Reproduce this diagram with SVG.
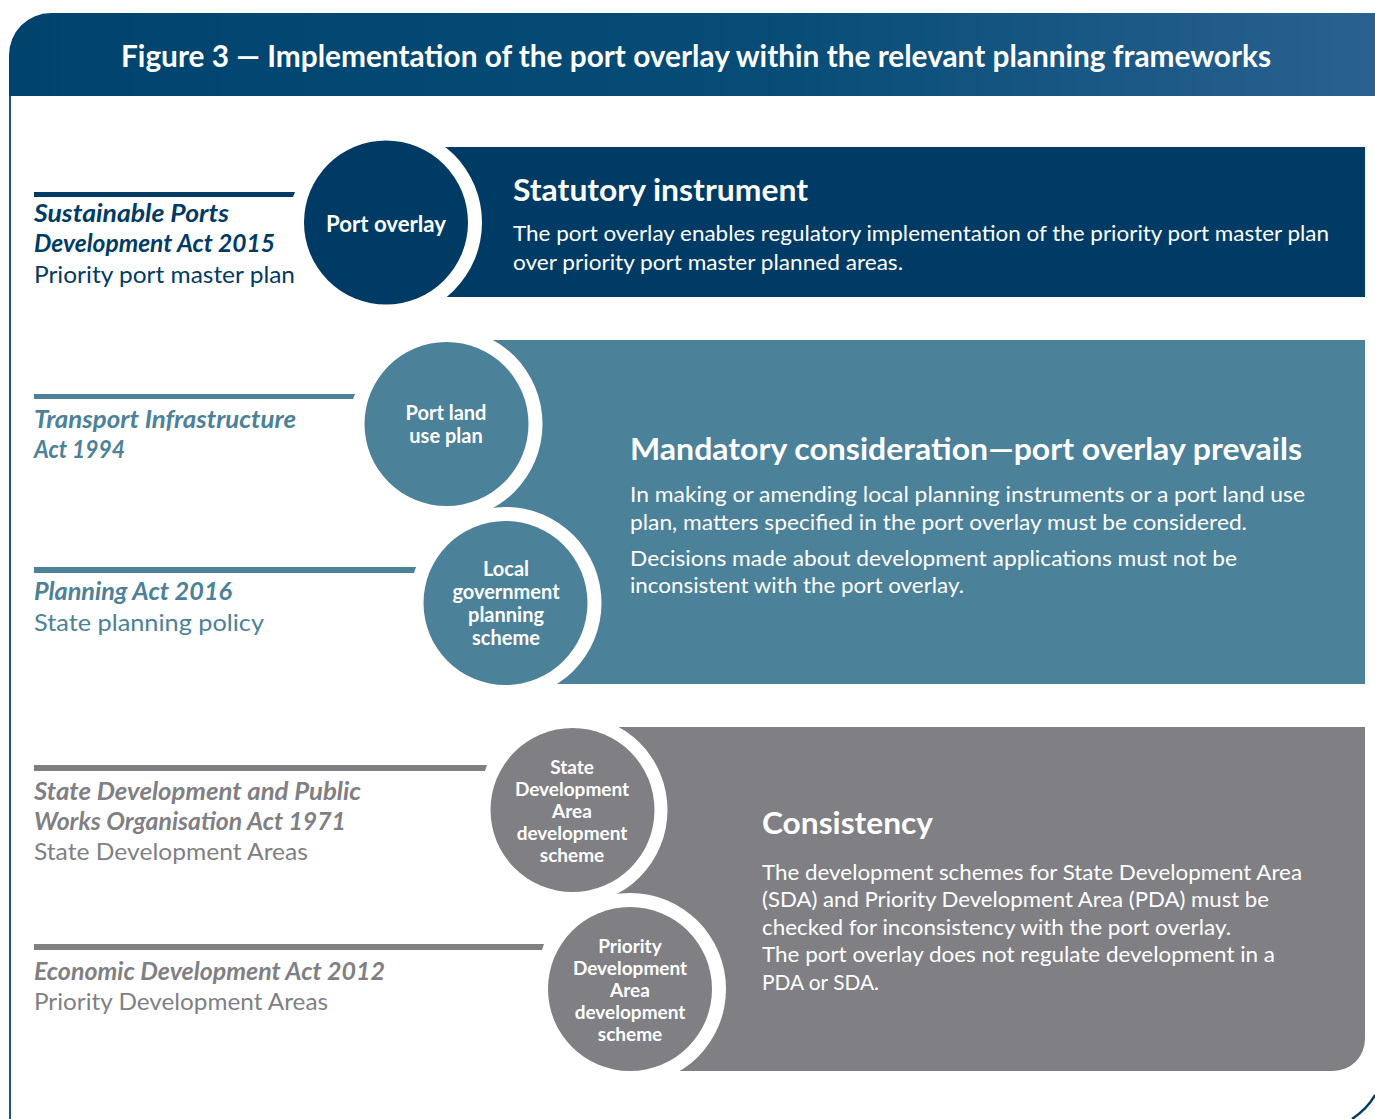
<svg xmlns="http://www.w3.org/2000/svg" width="1375" height="1119" viewBox="0 0 1375 1119">
<defs>
<linearGradient id="hdr" x1="0" y1="0" x2="1" y2="0">
<stop offset="0" stop-color="#00446e"/>
<stop offset="0.55" stop-color="#064c77"/>
<stop offset="1" stop-color="#2a6190"/>
</linearGradient>
<style>
text{font-family:Lato,"Noto Sans","Liberation Sans",sans-serif}
.title{font-size:31px;font-weight:700;fill:#fff}
.head{font-size:30px;font-weight:700;fill:#fff}
.body{font-size:21px;fill:#fff}
.ctext{font-size:20px;font-weight:700;fill:#fff;text-anchor:middle}
.csm{font-size:19px}
.act{font-size:24px;font-weight:700;font-style:italic}
.sub{font-size:24px}
.navy{fill:#003b65}
.teal{fill:#4b8199}
.grey{fill:#808084}
.ring{fill:#fff}
</style>
</defs>
<rect width="1375" height="1119" fill="#fff"/>
<g id="frame">
<path d="M9,96 L9,55 A42,42 0 0 1 51,13 L1375,13 L1375,96 Z" fill="url(#hdr)"/>
<line x1="10" y1="96" x2="10" y2="1119" stroke="#1f5482" stroke-width="2"/>
<path d="M1352,1119 Q1368,1108 1375,1095" fill="none" stroke="#003b65" stroke-width="2.5"/>
<text class="title" x="121" y="67" textLength="1150" lengthAdjust="spacingAndGlyphs">Figure 3 — Implementation of the port overlay within the relevant planning frameworks</text>
</g>
<g id="panel-statutory">
<rect class="navy" x="420" y="147" width="945" height="150"/>
<text class="head" x="513" y="201" textLength="295" lengthAdjust="spacingAndGlyphs">Statutory instrument</text>
<text class="body" x="513" y="241" textLength="816" lengthAdjust="spacingAndGlyphs">The port overlay enables regulatory implementation of the priority port master plan</text>
<text class="body" x="513" y="270" textLength="390" lengthAdjust="spacingAndGlyphs">over priority port master planned areas.</text>
</g>
<g id="panel-mandatory">
<rect class="teal" x="470" y="340" width="895" height="344"/>
<text class="head" x="630" y="460" textLength="672" lengthAdjust="spacingAndGlyphs">Mandatory consideration—port overlay prevails</text>
<text class="body" x="630" y="502" textLength="675" lengthAdjust="spacingAndGlyphs">In making or amending local planning instruments or a port land use</text>
<text class="body" x="630" y="530" textLength="617" lengthAdjust="spacingAndGlyphs">plan, matters specified in the port overlay must be considered.</text>
<text class="body" x="630" y="566" textLength="607" lengthAdjust="spacingAndGlyphs">Decisions made about development applications must not be</text>
<text class="body" x="630" y="593" textLength="334" lengthAdjust="spacingAndGlyphs">inconsistent with the port overlay.</text>
</g>
<g id="panel-consistency">
<path class="grey" d="M600,727 L1365,727 L1365,1039 A32,32 0 0 1 1333,1071 L600,1071 Z"/>
<text class="head" x="762" y="834" textLength="171" lengthAdjust="spacingAndGlyphs">Consistency</text>
<text class="body" x="762" y="880" textLength="540" lengthAdjust="spacingAndGlyphs">The development schemes for State Development Area</text>
<text class="body" x="762" y="907" textLength="507" lengthAdjust="spacingAndGlyphs">(SDA) and Priority Development Area (PDA) must be</text>
<text class="body" x="762" y="935" textLength="469" lengthAdjust="spacingAndGlyphs">checked for inconsistency with the port overlay.</text>
<text class="body" x="762" y="962" textLength="513" lengthAdjust="spacingAndGlyphs">The port overlay does not regulate development in a</text>
<text class="body" x="762" y="990" textLength="117" lengthAdjust="spacingAndGlyphs">PDA or SDA.</text>
</g>
<g id="node-port-overlay">
<circle class="ring" cx="386" cy="222.5" r="96"/>
<circle class="navy" cx="386" cy="222.5" r="82"/>
<text class="ctext" x="386" y="232" textLength="120" lengthAdjust="spacingAndGlyphs" style="font-size:22px">Port overlay</text>
</g>
<g id="node-port-land-use-plan">
<circle class="ring" cx="446.5" cy="424" r="96"/>
<circle class="teal" cx="446.5" cy="424" r="82"/>
<text class="ctext" x="446" y="420">Port land</text>
<text class="ctext" x="446" y="443">use plan</text>
</g>
<g id="node-local-government-planning-scheme">
<circle class="ring" cx="505.5" cy="603" r="96"/>
<circle class="teal" cx="505.5" cy="603" r="82"/>
<text class="ctext" x="506" y="576">Local</text>
<text class="ctext" x="506" y="599">government</text>
<text class="ctext" x="506" y="622">planning</text>
<text class="ctext" x="506" y="645">scheme</text>
</g>
<g id="node-sda-development-scheme">
<circle class="ring" cx="572.5" cy="810" r="95"/>
<circle class="grey" cx="572.5" cy="810" r="82"/>
<text class="ctext csm" x="572" y="774">State</text>
<text class="ctext csm" x="572" y="796">Development</text>
<text class="ctext csm" x="572" y="818">Area</text>
<text class="ctext csm" x="572" y="840">development</text>
<text class="ctext csm" x="572" y="862">scheme</text>
</g>
<g id="node-pda-development-scheme">
<circle class="ring" cx="630" cy="989" r="96"/>
<circle class="grey" cx="630" cy="989" r="82"/>
<text class="ctext csm" x="630" y="953">Priority</text>
<text class="ctext csm" x="630" y="975">Development</text>
<text class="ctext csm" x="630" y="997">Area</text>
<text class="ctext csm" x="630" y="1019">development</text>
<text class="ctext csm" x="630" y="1041">scheme</text>
</g>
<g id="connectors">
<polygon class="navy" points="34,192 295,192 293,197 34,197"/>
<polygon class="teal" points="34,394 355,394 353,399 34,399"/>
<polygon class="teal" points="34,567 416,567 414,573 34,573"/>
<polygon class="grey" points="34,765 487,765 485,771 34,771"/>
<polygon class="grey" points="34,944 544,944 542,950 34,950"/>
</g>
<g id="label-sustainable-ports">
<text class="act navy" x="34" y="222" textLength="195" lengthAdjust="spacingAndGlyphs">Sustainable Ports</text>
<text class="act navy" x="34" y="252" textLength="241" lengthAdjust="spacingAndGlyphs">Development Act 2015</text>
<text class="sub navy" x="34" y="283" textLength="261" lengthAdjust="spacingAndGlyphs">Priority port master plan</text>
</g>
<g id="label-transport">
<text class="act teal" x="34" y="428" textLength="262" lengthAdjust="spacingAndGlyphs">Transport Infrastructure</text>
<text class="act teal" x="34" y="458" textLength="91" lengthAdjust="spacingAndGlyphs">Act 1994</text>
</g>
<g id="label-planning-act">
<text class="act teal" x="34" y="600" textLength="198" lengthAdjust="spacingAndGlyphs">Planning Act 2016</text>
<text class="sub teal" x="34" y="631" textLength="230" lengthAdjust="spacingAndGlyphs">State planning policy</text>
</g>
<g id="label-state-development">
<text class="act grey" x="34" y="800" textLength="327" lengthAdjust="spacingAndGlyphs">State Development and Public</text>
<text class="act grey" x="34" y="830" textLength="312" lengthAdjust="spacingAndGlyphs">Works Organisation Act 1971</text>
<text class="sub grey" x="34" y="860" textLength="274" lengthAdjust="spacingAndGlyphs">State Development Areas</text>
</g>
<g id="label-economic-development">
<text class="act grey" x="34" y="980" textLength="351" lengthAdjust="spacingAndGlyphs">Economic Development Act 2012</text>
<text class="sub grey" x="34" y="1010" textLength="294" lengthAdjust="spacingAndGlyphs">Priority Development Areas</text>
</g>
</svg>
